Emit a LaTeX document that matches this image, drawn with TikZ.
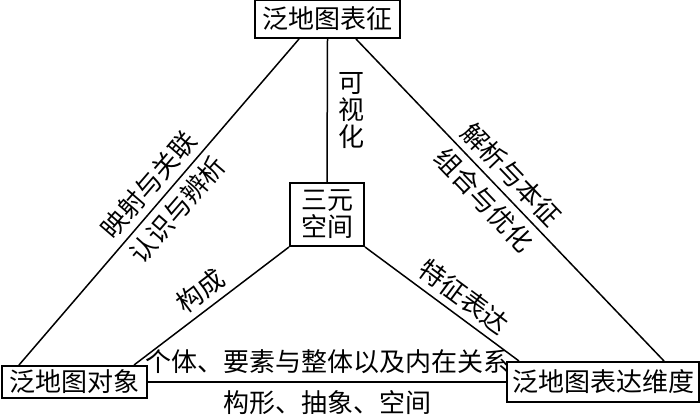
\documentclass[tikz,border=0pt]{standalone}
\usepackage{fontspec}
\setmainfont{Noto Sans CJK SC}
\usetikzlibrary{calc}

\begin{document}
\begin{tikzpicture}[x=0.5pt,y=-0.5pt,line width=0.75pt,
            every node/.style={inner sep=0pt,font=\fontsize{13pt}{13.5pt}\selectfont},
            box/.style={draw,line width=1pt,align=center},
            lab/.style={sloped,inner sep=3pt}]
            \useasboundingbox (0,0) rectangle (700,414);
            \node[box,minimum width=72.5pt,minimum height=19pt](top) at (327.5,19){泛地图表征};
            \node[box,minimum width=37pt,minimum height=31.5pt](mid) at (327,214.5){三元\\空间};
            \node[box,minimum width=72.5pt,minimum height=16pt](obj) at (74.5,382){泛地图对象};
            \node[box,minimum width=96pt,minimum height=20pt](dim) at (603,382){泛地图表达维度};
            \draw([xshift=9pt]obj.north west)--([xshift=22.5pt]top.south west)
              node[lab,pos=0.515,above]{映射与关联}
              node[lab,pos=0.515,below]{认识与辨析};
            \draw([xshift=-22.5pt]top.south east)--([xshift=-18pt]dim.north east)
              node[lab,pos=0.46,above]{解析与本征}
              node[lab,pos=0.46,below]{组合与优化};
            \draw(top.south)--(mid.north)
              node[pos=0.5,right,align=center,inner sep=5pt]{可\\视\\化};
            \draw([xshift=-7pt]obj.north east)--(mid.south west)
              node[lab,pos=0.5,above]{构成};
            \draw(mid.south east)--([xshift=6.5pt]dim.north west)
              node[lab,pos=0.57,above]{特征表达};
            \draw(obj.east)--(dim.west)
              node[midway,above,inner sep=4pt]{个体、要素与整体以及内在关系}
              node[midway,below,inner sep=4pt]{构形、抽象、空间};
          \end{tikzpicture}
\end{document}
